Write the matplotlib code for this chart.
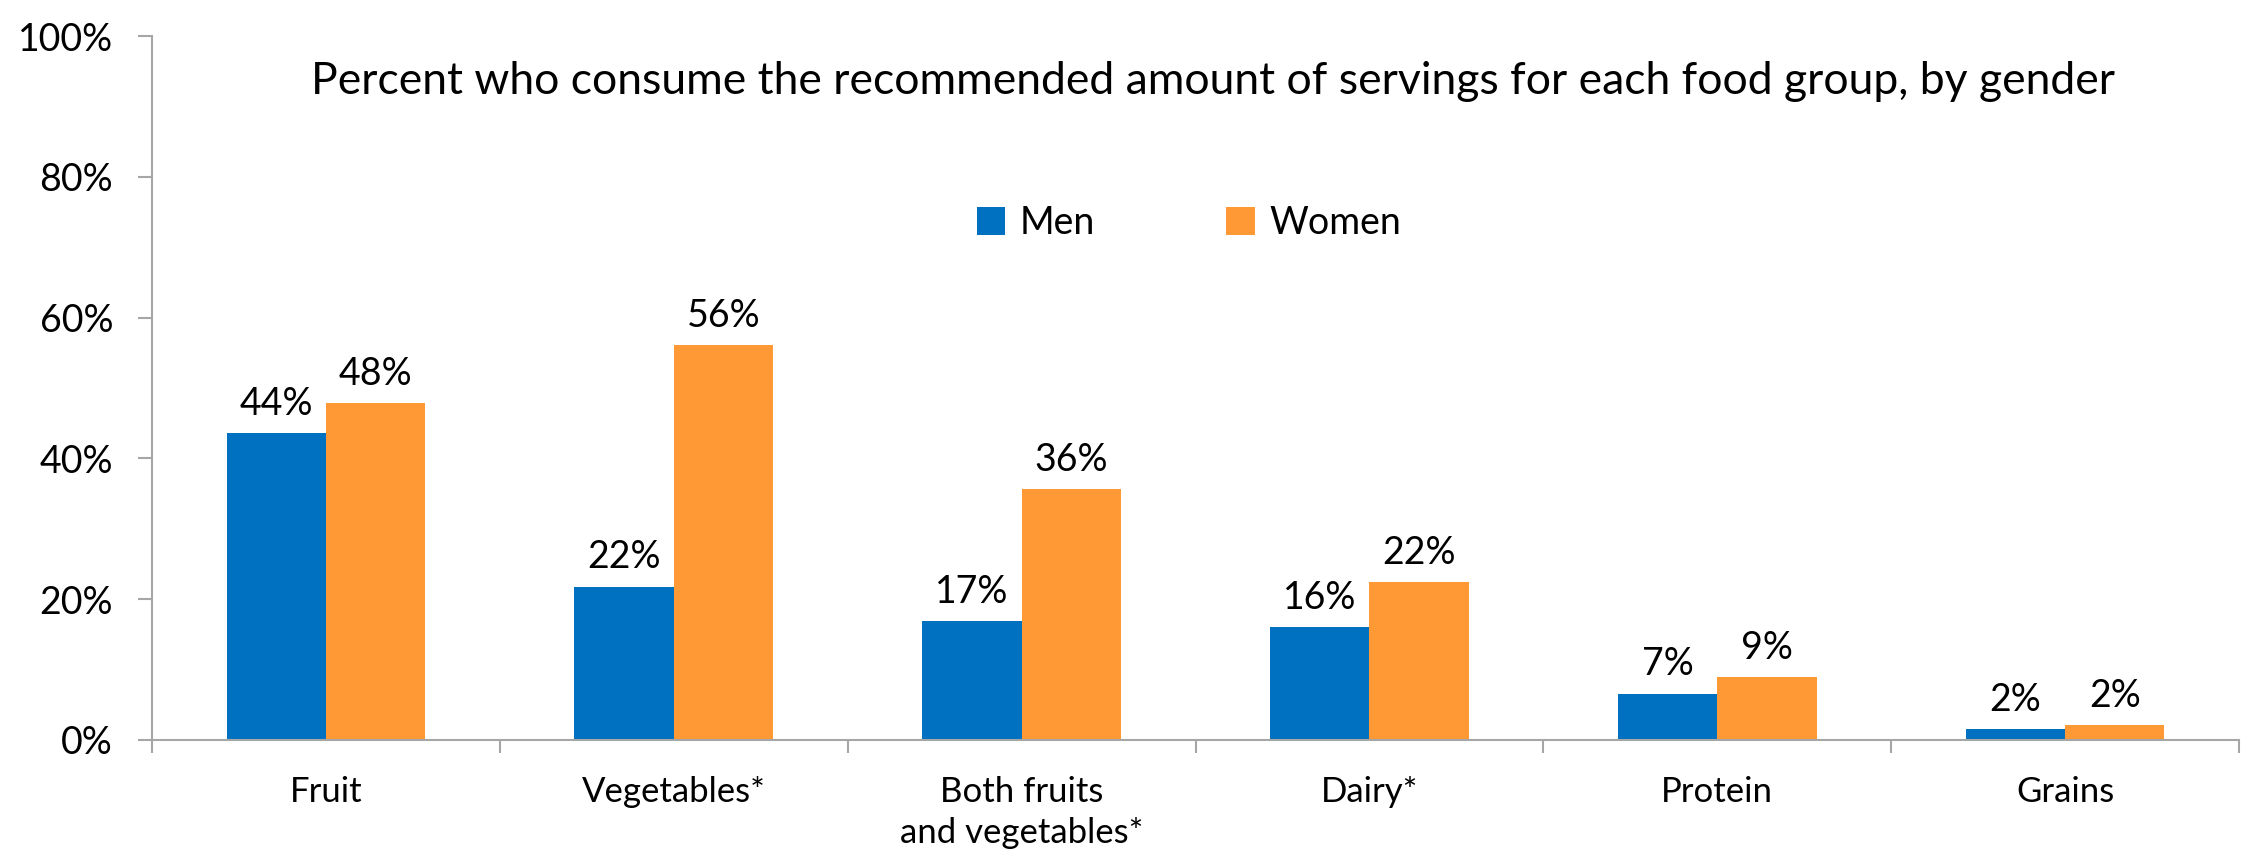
import numpy as np
import matplotlib.pyplot as plt
from matplotlib.ticker import FixedLocator, FuncFormatter

plt.rcParams['font.family'] = ['Lato', 'DejaVu Sans']

categories = ['Fruit', 'Vegetables*', 'Both fruits\nand vegetables*', 'Dairy*', 'Protein', 'Grains']
men = [43.6, 21.8, 16.9, 16.1, 6.6, 1.6]
women = [47.8, 56.1, 35.7, 22.4, 9.0, 2.1]
yticks = [0, 20, 40, 60, 80, 100]

blue = '#0070C0'
orange = '#FF9935'
grey = '#A6A6A6'

fig = plt.figure(figsize=(22.54, 8.66), dpi=100)
ax = fig.add_axes([152/2254, 1-740/866, (2239-152)/2254, (740-36)/866])

x = np.arange(len(categories))
w = 1/3.5
b1 = ax.bar(x - w/2, men, w, color=blue, label='Men')
b2 = ax.bar(x + w/2, women, w, color=orange, label='Women')

for bars in (b1, b2):
    for r in bars:
        ax.annotate('%d%%' % round(r.get_height()),
                    (r.get_x() + r.get_width()/2, r.get_height()),
                    xytext=(0, 8), textcoords='offset points',
                    ha='center', va='bottom', fontsize=27)

ax.set_xlim(-0.5, len(categories) - 0.5)
ax.set_ylim(0, 100)
ax.set_yticks(yticks)
ax.yaxis.set_major_formatter(FuncFormatter(lambda v, p: '%d%%' % v))

ax.xaxis.set_major_locator(FixedLocator(np.arange(len(categories) + 1) - 0.5))
ax.xaxis.set_minor_locator(FixedLocator(x))
ax.xaxis.set_major_formatter(FuncFormatter(lambda v, p: ''))
ax.set_xticklabels(categories, minor=True, linespacing=1.35)
ax.tick_params(axis='x', which='major', length=9, width=1.5, color=grey)
ax.tick_params(axis='x', which='minor', length=0, pad=26, labelsize=25)
ax.tick_params(axis='y', length=10, width=1.5, color=grey, pad=18, labelsize=27)

for s in ['top', 'right']:
    ax.spines[s].set_visible(False)
for s in ['left', 'bottom']:
    ax.spines[s].set_color(grey)
    ax.spines[s].set_linewidth(1.5)

fig.text(1213/2254, 1-82/866,
         'Percent who consume the recommended amount of servings for each food group, by gender',
         ha='center', va='center', fontsize=32)

ax.legend(loc='center', bbox_to_anchor=(1189/2254, 1-223/866), bbox_transform=fig.transFigure,
          ncol=2, frameon=False, fontsize=27, handlelength=0.75, handleheight=0.75,
          handletextpad=0.4, columnspacing=3.5)

fig.savefig('out.png', dpi=100)
